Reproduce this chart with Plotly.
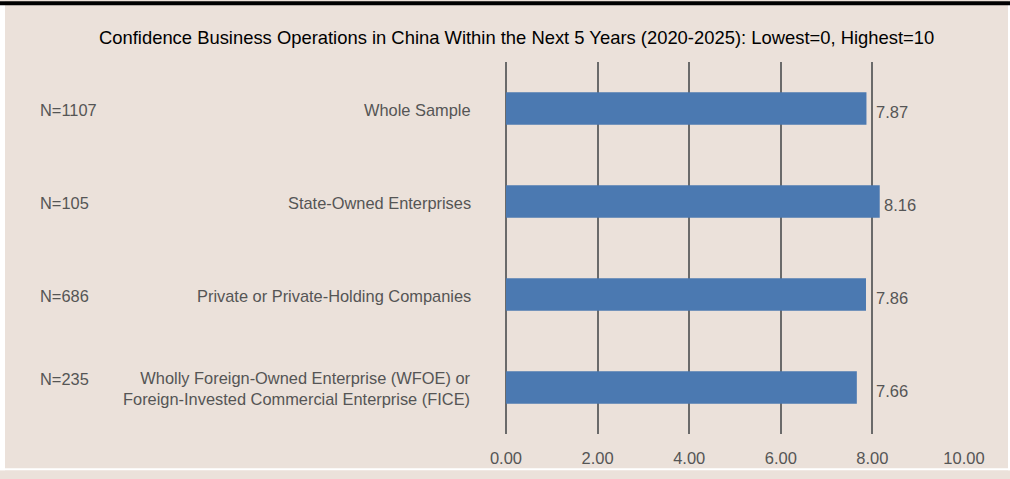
import plotly.graph_objects as go

# Survey data
categories = [
    "Whole Sample",
    "State-Owned Enterprises",
    "Private or Private-Holding Companies",
    "Wholly Foreign-Owned Enterprise (WFOE) or<br>Foreign-Invested Commercial Enterprise (FICE)",
]
sample_sizes = ["N=1107", "N=105", "N=686", "N=235"]
scores = [7.87, 8.16, 7.86, 7.66]
tick_values = [0, 2, 4, 6, 8, 10]
tick_labels = ["0.00", "2.00", "4.00", "6.00", "8.00", "10.00"]

W, H = 1010, 479
L, R, T, B = 506, 46, 62, 37
BG = "#ebe1da"
TXT = "#555555"
FONT = "Liberation Sans Narrow, Arial Narrow, Liberation Sans, sans-serif"

pw = W - L - R
ph = H - T - B

def px_x(px):
    return (px - L) / pw

def px_y(py):
    return 1 - (py - T) / ph

ypos = list(range(len(categories)))

fig = go.Figure(
    go.Bar(
        x=scores,
        y=ypos,
        orientation="h",
        marker=dict(color="#4b79b1", line=dict(width=0)),
        width=0.35,
        hoverinfo="skip",
    )
)

annotations = []
for i, (cat, n, v) in enumerate(zip(categories, sample_sizes, scores)):
    two_line = "<br>" in cat
    annotations.append(dict(
        x=px_x(473), xref="paper", y=i, yref="y",
        text=cat, showarrow=False, xanchor="right", yanchor="middle",
        align="right", font=dict(family=FONT, size=16.4, color=TXT),
        yshift=-1,
    ))
    annotations.append(dict(
        x=px_x(38), xref="paper", y=i, yref="y",
        text=n, showarrow=False, xanchor="left", yanchor="middle",
        font=dict(family=FONT, size=16.4, color=TXT),
        yshift=9 if two_line else -1,
    ))
    # value labels sit just right of the bar, clear of the 8.00 gridline
    annotations.append(dict(
        x=max(v, 8.0), xref="x", y=i, yref="y",
        text=f"{v:.2f}", showarrow=False, xanchor="left", yanchor="middle",
        font=dict(family=FONT, size=16.5, color=TXT),
        xshift=2, yshift=-3,
    ))

annotations.append(dict(
    x=px_x(516), xref="paper", y=px_y(37), yref="paper",
    text="Confidence Business Operations in China Within the Next 5 Years (2020-2025): Lowest=0, Highest=10",
    showarrow=False, xanchor="center", yanchor="middle",
    font=dict(family=FONT, size=18.4, color="#000000"),
))

shapes = [
    # white edges around the beige panel
    dict(type="rect", xref="paper", yref="paper", x0=px_x(0), x1=px_x(5),
         y0=px_y(H), y1=px_y(0), fillcolor="white", line=dict(width=0), layer="below"),
    dict(type="rect", xref="paper", yref="paper", x0=px_x(1008), x1=px_x(W),
         y0=px_y(H), y1=px_y(0), fillcolor="white", line=dict(width=0), layer="below"),
    dict(type="rect", xref="paper", yref="paper", x0=px_x(0), x1=px_x(W),
         y0=px_y(H), y1=px_y(477), fillcolor="white", line=dict(width=0), layer="below"),
    # black rule along the top
    dict(type="rect", xref="paper", yref="paper", x0=px_x(0), x1=px_x(W),
         y0=px_y(4), y1=px_y(0), fillcolor="black", line=dict(width=0), layer="below"),
]

fig.update_layout(
    width=W, height=H,
    margin=dict(l=L, r=R, t=T, b=B),
    paper_bgcolor=BG, plot_bgcolor=BG,
    showlegend=False,
    bargap=0.65,
    annotations=annotations,
    shapes=shapes,
    xaxis=dict(
        range=[0, 10], tickvals=tick_values, ticktext=tick_labels,
        showgrid=True, gridcolor="#6a6a6a", gridwidth=1.5,
        zeroline=True, zerolinecolor="#6a6a6a", zerolinewidth=2,
        showline=False, ticks="", ticklabelstandoff=12,
        tickfont=dict(family=FONT, size=16.5, color=TXT),
        fixedrange=True,
    ),
    yaxis=dict(
        range=[3.5, -0.5], showticklabels=False, showgrid=False,
        zeroline=False, showline=False, ticks="", fixedrange=True,
    ),
)

fig.update_traces(cliponaxis=False)

fig.write_html("out.html", config={"displayModeBar": False})
